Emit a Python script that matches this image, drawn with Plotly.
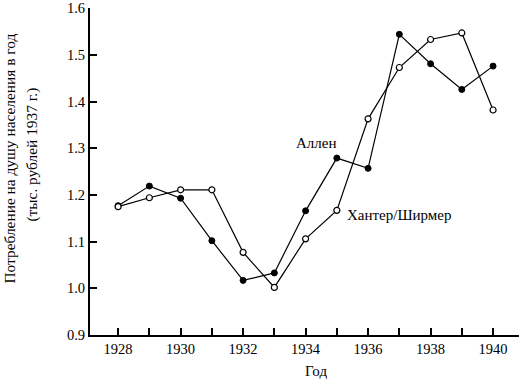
import plotly.graph_objects as go

years = [1928, 1929, 1930, 1931, 1932, 1933, 1934, 1935, 1936, 1937, 1938, 1939, 1940]
allen = [1.177, 1.219, 1.193, 1.102, 1.017, 1.033, 1.166, 1.279, 1.257, 1.544, 1.481, 1.426, 1.476]
hunter = [1.175, 1.194, 1.211, 1.211, 1.077, 1.002, 1.106, 1.167, 1.363, 1.473, 1.533, 1.547, 1.382]

FONT = "Liberation Serif"
TICK = 14.5
ANN = 15

L, R, T, B = 90, 0, 6, 44
W, H = 519, 379
plot_w = W - L - R
plot_h = H - T - B


def px(xp):
    return (xp - L) / plot_w


def py(yp):
    return (H - B - yp) / plot_h


fig = go.Figure()
fig.add_trace(go.Scatter(
    x=years, y=allen, mode="lines+markers", name="Аллен",
    line=dict(color="black", width=1.2),
    marker=dict(symbol="circle", size=6, color="black", line=dict(color="black", width=1)),
))
fig.add_trace(go.Scatter(
    x=years, y=hunter, mode="lines+markers", name="Хантер/Ширмер",
    line=dict(color="black", width=1.2),
    marker=dict(symbol="circle", size=6, color="white", line=dict(color="black", width=1.2)),
))

fig.update_layout(
    width=W, height=H,
    margin=dict(l=L, r=R, t=T, b=B),
    paper_bgcolor="white", plot_bgcolor="white",
    showlegend=False,
    font=dict(family=FONT, size=TICK, color="black"),
    xaxis=dict(
        range=[1927.1, 1940.83],
        tickmode="array", tickvals=[1928, 1930, 1932, 1934, 1936, 1938, 1940],
        ticks="inside", ticklen=7, tickwidth=1.5, tickcolor="black",
        minor=dict(tickmode="array", tickvals=[1929, 1931, 1933, 1935, 1937, 1939],
                   ticks="inside", ticklen=7, tickwidth=1.5, tickcolor="black", showgrid=False),
        showline=True, linecolor="black", linewidth=2,
        showgrid=False, zeroline=False,
        tickfont=dict(family=FONT, size=TICK),
        ticklabeloverflow="allow",
    ),
    yaxis=dict(
        range=[0.9, 1.6005],
        tickvals=[0.9, 1.0, 1.1, 1.2, 1.3, 1.4, 1.5, 1.6],
        tickformat=".1f",
        ticks="inside", ticklen=7, tickwidth=1.5, tickcolor="black",
        showline=True, linecolor="black", linewidth=2,
        showgrid=False, zeroline=False,
        tickfont=dict(family=FONT, size=TICK),
        ticklabeloverflow="allow",
    ),
)

fig.add_annotation(text="Аллен", x=1934.34, y=1.311, xref="x", yref="y", showarrow=False,
                   xanchor="center", yanchor="middle", font=dict(family=FONT, size=ANN))
fig.add_annotation(text="Хантер/Ширмер", x=1935.26, y=1.158, xref="x", yref="y", showarrow=False,
                   xanchor="left", yanchor="middle", font=dict(family=FONT, size=ANN))
fig.add_annotation(text="Потребление на душу населения в год",
                   x=px(10), y=py(157.5), xref="paper", yref="paper", showarrow=False,
                   xanchor="center", yanchor="middle", textangle=-90,
                   font=dict(family=FONT, size=15.4))
fig.add_annotation(text="(тыс. рублей 1937 г.)",
                   x=px(32), y=py(153.5), xref="paper", yref="paper", showarrow=False,
                   xanchor="center", yanchor="middle", textangle=-90,
                   font=dict(family=FONT, size=15.4))
fig.add_annotation(text="Год", x=px(316), y=py(371),
                   xref="paper", yref="paper", showarrow=False,
                   xanchor="center", yanchor="middle", font=dict(family=FONT, size=ANN))

fig.write_html("out.html")
